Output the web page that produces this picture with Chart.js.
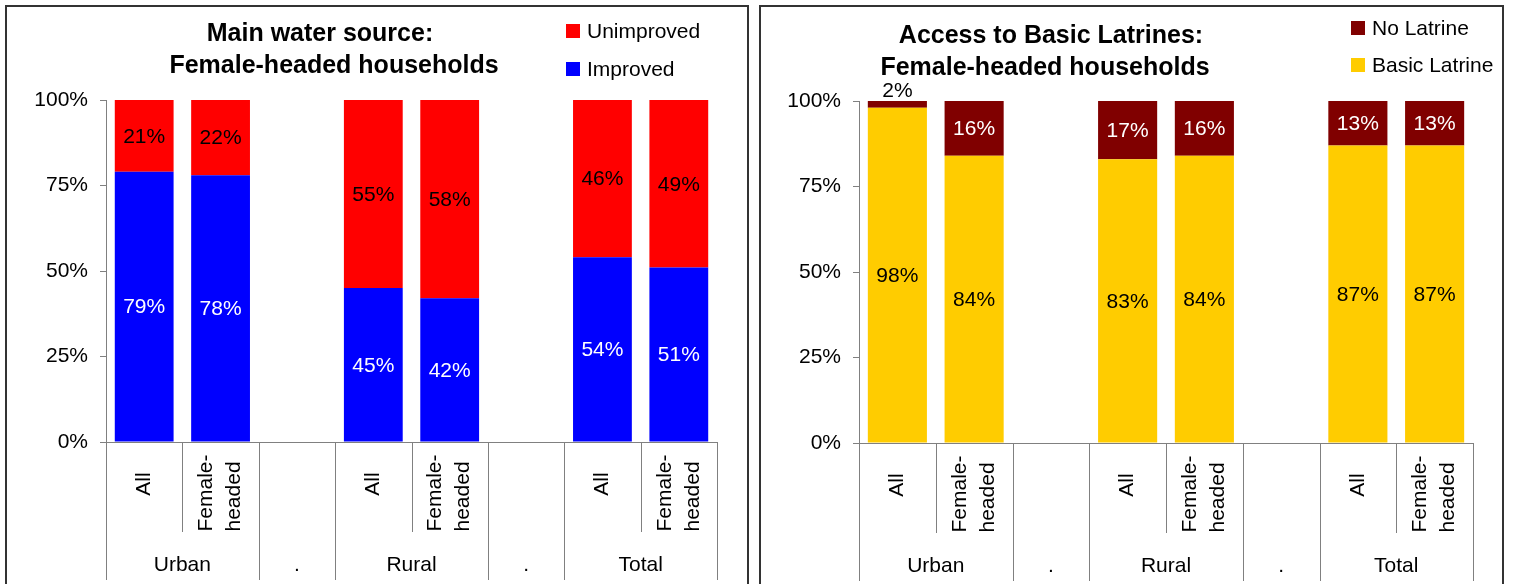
<!DOCTYPE html>
<html>
<head>
<meta charset="utf-8">
<title>Water source and latrines: female-headed households</title>
<script src="https://cdn.jsdelivr.net/npm/chart.js@4.4.1/dist/chart.umd.min.js"></script>
<style>
    html, body { margin: 0; padding: 0; background: #fff; overflow: hidden; }
    .box { position: absolute; top: 5px; height: 640px; border: 2px solid #333; box-sizing: border-box; background: #fff; }
    #boxWater { left: 5px; width: 744px; }
    #boxLatrine { left: 759px; width: 745px; }
    .box canvas { position: absolute; left: 0; top: 1px; }
</style>
</head>
<body>
<div class="box" id="boxWater"><canvas id="waterChart" width="740" height="600"></canvas></div>
<div class="box" id="boxLatrine"><canvas id="latrineChart" width="741" height="600"></canvas></div>

<script>
    // categories along the x axis (8 slots, two of them empty spacers)
    const categories = ['Urban All', 'Urban Female-headed', 'gap1', 'Rural All', 'Rural Female-headed', 'gap2', 'Total All', 'Total Female-headed'];
    const subLabels = [['All'], ['Female-', 'headed'], [], ['All'], ['Female-', 'headed'], [], ['All'], ['Female-', 'headed']];
    const groupLabels = ['Urban', '.', 'Rural', '.', 'Total'];
    const groupSpans = [2, 1, 2, 1, 2];
    const yTickValues = [0, 25, 50, 75, 100];

    // main water source (%)
    const waterImproved = [79, 78, null, 45, 42, null, 54, 51];
    const waterUnimproved = [21, 22, null, 55, 58, null, 46, 49];

    // basic latrines (%)
    const latrineBasic = [98, 84, null, 83, 84, null, 87, 87];
    const latrineNone = [2, 16, null, 17, 16, null, 13, 13];

    const FONT = "'Liberation Sans', Arial, sans-serif";
    const AXIS_COLOR = '#808080';
    Chart.defaults.font.family = FONT;
    Chart.defaults.color = '#000';

    // draws title, legend, data labels and the two-level category axis
    const excelLook = {
        id: 'excelLook',
        afterDatasetsDraw(chart) {
            const ctx = chart.ctx;
            ctx.save();
            ctx.font = '21px ' + FONT;
            ctx.textAlign = 'center';
            ctx.textBaseline = 'middle';
            chart.data.datasets.forEach((ds, di) => {
                const meta = chart.getDatasetMeta(di);
                meta.data.forEach((bar, i) => {
                    const v = ds.data[i];
                    if (v == null) return;
                    const p = bar.getProps(['x', 'y', 'base'], true);
                    const top = Math.min(p.y, p.base);
                    const bottom = Math.max(p.y, p.base);
                    let y = (top + bottom) / 2;
                    let color = ds.labelColor;
                    // too thin for the label: put it above the bar
                    if (bottom - top < 20) {
                        y = top - 11;
                        color = '#000';
                    }
                    ctx.fillStyle = color;
                    ctx.fillText(v + '%', p.x, y + 1);
                });
            });
            ctx.restore();
        },
        afterDraw(chart, args, opts) {
            const ctx = chart.ctx;
            const area = chart.chartArea;
            const xs = chart.scales.x;
            ctx.save();

            // title
            ctx.fillStyle = '#000';
            ctx.textAlign = 'center';
            ctx.textBaseline = 'alphabetic';
            ctx.font = 'bold 25px ' + FONT;
            opts.title.forEach((line, j) => ctx.fillText(line, opts.titleX[j], opts.titleY + j * 32));

            // legend (top dataset first)
            ctx.font = '21px ' + FONT;
            ctx.textAlign = 'left';
            ctx.textBaseline = 'middle';
            chart.data.datasets.slice().reverse().forEach((ds, j) => {
                const y = opts.legendY + j * opts.legendStep;
                ctx.fillStyle = ds.backgroundColor;
                ctx.fillRect(opts.legendX, y, 14, 14);
                ctx.fillStyle = '#000';
                ctx.fillText(ds.label, opts.legendX + 21, y + 8);
            });

            // category separators
            const n = chart.data.labels.length;
            const w = (xs.right - xs.left) / n;
            const y0 = area.bottom;
            const longAt = [0];
            groupSpans.reduce((acc, s) => { longAt.push(acc + s); return acc + s; }, 0);
            ctx.strokeStyle = AXIS_COLOR;
            ctx.lineWidth = 1;
            for (let k = 0; k <= n; k++) {
                const x = Math.round(xs.left + k * w) + 0.5;
                const end = longAt.includes(k) ? 138 : 90;
                ctx.beginPath();
                ctx.moveTo(x, y0);
                ctx.lineTo(x, y0 + end);
                ctx.stroke();
            }

            // rotated inner labels
            ctx.fillStyle = '#000';
            ctx.font = '21px ' + FONT;
            subLabels.forEach((lines, i) => {
                if (!lines.length) return;
                const cx = xs.getPixelForValue(i);
                const maxW = Math.max(...lines.map(l => ctx.measureText(l).width));
                ctx.save();
                ctx.translate(cx, y0 + 42 + 9 * (lines.length - 1));
                ctx.rotate(-Math.PI / 2);
                ctx.textAlign = 'left';
                ctx.textBaseline = 'middle';
                lines.forEach((l, j) => {
                    ctx.fillText(l, -maxW / 2, (j - (lines.length - 1) / 2) * 28);
                });
                ctx.restore();
            });

            // group labels
            ctx.textAlign = 'center';
            ctx.textBaseline = 'middle';
            let start = 0;
            groupLabels.forEach((g, gi) => {
                const cx = xs.left + (start + groupSpans[gi] / 2) * w;
                ctx.fillText(g, cx, y0 + 123);
                start += groupSpans[gi];
            });

            ctx.restore();
        }
    };

    function makeChart(id, datasets, look, pad) {
        const ctx = document.getElementById(id).getContext('2d');
        return new Chart(ctx, {
            type: 'bar',
            data: { labels: categories, datasets: datasets },
            options: {
                responsive: false,
                animation: false,
                devicePixelRatio: 1,
                layout: { padding: { left: 0, top: pad.top, right: pad.right, bottom: 0 } },
                datasets: { bar: { categoryPercentage: 1, barPercentage: 0.77 } },
                scales: {
                    x: {
                        stacked: true,
                        grid: { display: false },
                        border: { display: true, color: AXIS_COLOR, width: 1 },
                        ticks: { display: false },
                        afterFit: s => { s.height = pad.below; }
                    },
                    y: {
                        stacked: true,
                        min: 0,
                        max: 100,
                        afterBuildTicks: s => { s.ticks = yTickValues.map(v => ({ value: v })); },
                        grid: { drawOnChartArea: false, drawTicks: true, tickLength: 6, color: AXIS_COLOR },
                        border: { display: true, color: AXIS_COLOR, width: 1 },
                        ticks: {
                            padding: 12,
                            font: { size: 21 },
                            color: '#000',
                            callback: v => v + '%'
                        },
                        afterFit: s => { s.width = pad.left; }
                    }
                },
                plugins: {
                    legend: { display: false },
                    title: { display: false },
                    tooltip: { enabled: false },
                    excelLook: look
                }
            },
            plugins: [excelLook]
        });
    }

    makeChart('waterChart', [
        { label: 'Improved', data: waterImproved, backgroundColor: '#0000FF', labelColor: '#FFFFFF' },
        { label: 'Unimproved', data: waterUnimproved, backgroundColor: '#FF0000', labelColor: '#000000' }
    ], {
        title: ['Main water source:', 'Female-headed households'],
        titleX: [313, 327], titleY: 33,
        legendX: 559, legendY: 16, legendStep: 38
    }, { left: 99, top: 92, right: 30, below: 166 });

    makeChart('latrineChart', [
        { label: 'Basic Latrine', data: latrineBasic, backgroundColor: '#FFCC00', labelColor: '#000000' },
        { label: 'No Latrine', data: latrineNone, backgroundColor: '#800000', labelColor: '#FFFFFF' }
    ], {
        title: ['Access to Basic Latrines:', 'Female-headed households'],
        titleX: [290, 284], titleY: 35,
        legendX: 590, legendY: 13, legendStep: 37
    }, { left: 98, top: 93, right: 29, below: 165 });
</script>
</body>
</html>
